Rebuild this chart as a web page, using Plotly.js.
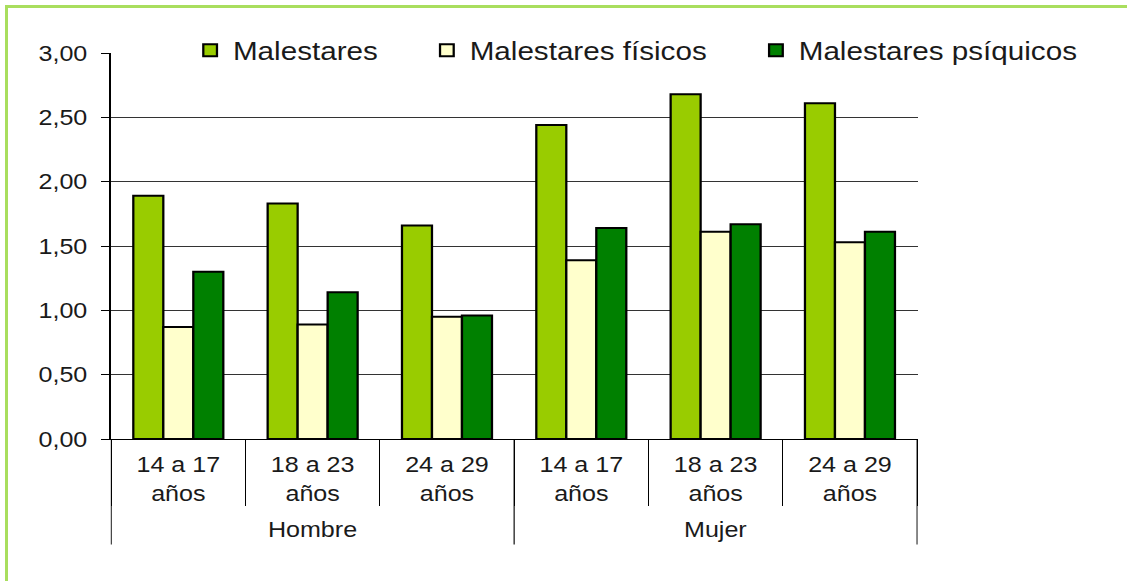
<!DOCTYPE html>
<html>
<head>
<meta charset="utf-8">
<script src="https://cdn.plot.ly/plotly-3.0.1.min.js"></script>
<style>
  html, body { margin: 0; padding: 0; background: #fff; overflow: hidden; }
  #chart {
    position: absolute; left: 0; top: 0; width: 989px; height: 581px;
    transform: scaleX(1.14); transform-origin: 0 0;
  }
  #frame {
    position: absolute; left: 5px; top: 5px; width: 1122px; height: 576px;
    border-left: 3px solid #a9de5e; border-top: 3px solid #a9de5e;
    box-sizing: border-box; z-index: 5; pointer-events: none;
  }
</style>
</head>
<body>
<div id="chart"></div>
<div id="frame"></div>
<script>
// Categories: sex (outer level) and age band (inner level)
const sexes = ["Hombre", "Hombre", "Hombre", "Mujer", "Mujer", "Mujer"];
const ageBands = ["14 a 17<br>años", "18 a 23<br>años", "24 a 29<br>años",
                  "14 a 17<br>años", "18 a 23<br>años", "24 a 29<br>años"];

// Mean scores per series
const malestares = [1.89, 1.83, 1.66, 2.44, 2.68, 2.61];
const malestaresFisicos = [0.87, 0.89, 0.95, 1.39, 1.61, 1.53];
const malestaresPsiquicos = [1.30, 1.14, 0.96, 1.64, 1.67, 1.61];

const seriesNames = ["Malestares", "Malestares físicos", "Malestares psíquicos"];
const seriesColors = ["#99cc00", "#ffffcc", "#008000"];

const FONT = "Liberation Sans, Arial, sans-serif";
const TEXT = "#1a1a1a";

// One unique key per (sex, age band) so repeated age labels stay separate
const keys = sexes.map((s, i) => s + " " + ageBands[i].replace("<br>", " "));

const legendIds = ["legend", "legend2", "legend3"];
const traces = [malestares, malestaresFisicos, malestaresPsiquicos].map((vals, i) => ({
  type: "bar",
  name: seriesNames[i],
  legend: legendIds[i],
  x: keys,
  y: vals,
  marker: { color: seriesColors[i], line: { color: "#000", width: 2 } },
  hoverinfo: "skip"
}));

// Outer level: one label per sex, centred on its run of categories,
// with a long divider at each group edge
const groups = [];
sexes.forEach((s, i) => {
  const g = groups[groups.length - 1];
  if (g && g.name === s) g.end = i; else groups.push({ name: s, start: i, end: i });
});
const plotH = 386.6;
const outerLabelY = -(90.7 / plotH);
const dividerBottom = -(105.7 / plotH);
const annotations = groups.map(g => ({
  text: g.name, xref: "x", yref: "paper",
  x: (g.start + g.end) / 2, y: outerLabelY,
  xanchor: "center", yanchor: "middle", showarrow: false,
  font: { family: FONT, size: 22, color: TEXT }
}));
const edges = [groups[0].start - 0.5].concat(groups.map(g => g.end + 0.5));
const shapes = edges.map(e => ({
  type: "line", xref: "x", yref: "paper",
  x0: e, x1: e, y0: 0, y1: dividerBottom,
  line: { color: "#000", width: 1 }
}));
// white band behind the legend row, over the top gridline
shapes.push({
  type: "rect", xref: "paper", yref: "paper", layer: "above",
  x0: 0.0408, x1: 1.0, y0: 1 - 8 / plotH, y1: 1 + 8 / plotH,
  fillcolor: "#fff", line: { width: 0 }
});

function legendBox(x, w) {
  return {
    orientation: "h", x: x, xanchor: "left", y: 1.007, yanchor: "middle",
    bgcolor: "#fff", borderwidth: 0,
    entrywidth: w, entrywidthmode: "pixels",
    font: { family: FONT, size: 26, color: TEXT }
  };
}

const layout = {
  width: 989,
  height: 581,
  margin: { l: 96.5, r: 183.5, t: 52.7, b: 141.7, autoexpand: false },
  paper_bgcolor: "#fff",
  plot_bgcolor: "#fff",
  separators: ",.",
  barmode: "group",
  bargap: 0.33,
  bargroupgap: 0,
  font: { family: FONT, size: 22, color: TEXT },
  showlegend: true,
  legend: legendBox(0.0951, 170),
  legend2: legendBox(0.3884, 250),
  legend3: legendBox(0.7961, 0),
  annotations: annotations,
  shapes: shapes,
  xaxis: {
    type: "category",
    tickvals: keys,
    ticktext: ageBands,
    showline: true, linecolor: "#000", linewidth: 1,
    ticks: "outside", ticklen: 66, tickcolor: "#000", tickwidth: 1,
    tickson: "boundaries",
    ticklabelstandoff: 6,
    showgrid: false,
    tickfont: { family: FONT, size: 22, color: TEXT }
  },
  yaxis: {
    range: [0, 3],
    dtick: 0.5,
    tick0: 0,
    tickformat: ".2f",
    showline: true, linecolor: "#000", linewidth: 1,
    ticks: "outside", ticklen: 7, tickcolor: "#000", tickwidth: 1,
    ticklabelstandoff: 8,
    showgrid: true, gridcolor: "#333", gridwidth: 1,
    zeroline: false,
    tickfont: { family: FONT, size: 22, color: TEXT }
  }
};

Plotly.newPlot("chart", traces, layout, { displayModeBar: false, staticPlot: true });
</script>
</body>
</html>
